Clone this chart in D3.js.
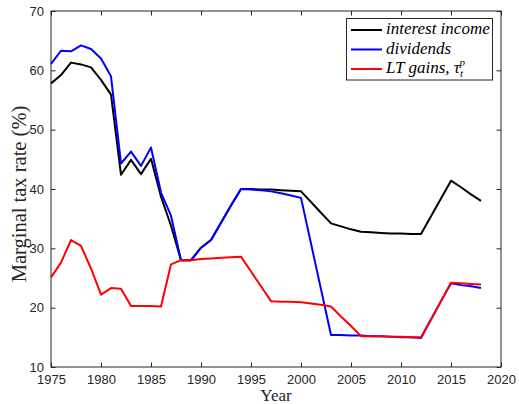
<!DOCTYPE html>
<html>
<head>
<meta charset="utf-8">
<script src="https://cdn.jsdelivr.net/npm/d3@7"></script>
<style>
  html, body { margin: 0; padding: 0; background: #fff; }
  svg { display: block; }
</style>
</head>
<body>
<svg id="chart" width="519" height="404"></svg>
<script>
// Marginal tax rates by year
const years = d3.range(1975, 2019);
const interestIncome = [57.8, 59.2, 61.3, 61.0, 60.5, 58.4, 55.9, 42.4, 44.9, 42.5,
  45.1, 38.7, 33.8, 28.0, 28.0, 30.1, 31.4, 34.3, 37.2, 40.0,
  40.0, 39.9, 39.9, 39.8, 39.7, 39.6, 37.8, 36.0, 34.2, 33.7,
  33.2, 32.8, 32.7, 32.6, 32.5, 32.5, 32.4, 32.4, 35.4, 38.4,
  41.4, 40.3, 39.1, 38.0];
const dividends = [61.1, 63.3, 63.2, 64.2, 63.6, 62.0, 59.0, 44.3, 46.3, 43.9,
  47.0, 39.4, 35.5, 28.0, 28.0, 30.1, 31.4, 34.3, 37.2, 40.0,
  39.9, 39.8, 39.6, 39.3, 38.9, 38.5, 30.8, 23.1, 15.4, 15.4,
  15.3, 15.3, 15.2, 15.2, 15.1, 15.0, 15.0, 14.9, 18.0, 21.1,
  24.1, 23.8, 23.6, 23.3];
const ltGains = [25.1, 27.6, 31.4, 30.4, 26.6, 22.2, 23.3, 23.2, 20.3, 20.3,
  20.3, 20.2, 27.3, 28.0, 28.0, 28.2, 28.3, 28.4, 28.5, 28.6,
  26.1, 23.6, 21.1, 21.0, 21.0, 20.9, 20.7, 20.5, 20.2, 18.5,
  16.9, 15.2, 15.2, 15.2, 15.1, 15.1, 15.0, 15.0, 18.0, 21.1,
  24.2, 24.1, 24.0, 23.9];
const xTicks = [1975, 1980, 1985, 1990, 1995, 2000, 2005, 2010, 2015, 2020];
const yTicks = [10, 20, 30, 40, 50, 60, 70];
const seriesNames = ["interest income", "dividends", "LT gains"];
const seriesColors = ["#000000", "#0000ff", "#ff0000"];

const svg = d3.select("#chart");
const plotL = 51, plotR = 501, plotT = 11, plotB = 367;

const x = d3.scaleLinear().domain([1975, 2020]).range([plotL, plotR]);
const y = d3.scaleLinear().domain([10, 70]).range([plotB, plotT]);

const axisColor = "#262626";
const tickFont = "'Liberation Sans', Arial, sans-serif";
const serif = "'Liberation Serif', 'DejaVu Serif', serif";

// plot frame
svg.append("rect")
  .attr("x", plotL).attr("y", plotT)
  .attr("width", plotR - plotL).attr("height", plotB - plotT)
  .attr("fill", "#fff").attr("stroke", axisColor).attr("stroke-width", 1);

// inward ticks on all four sides
const tickLen = 4.5;
function styleAxis(g) {
  g.select(".domain").remove();
  g.selectAll(".tick line").attr("stroke", axisColor).attr("stroke-width", 1);
  g.selectAll(".tick text").attr("fill", axisColor)
    .style("font-family", tickFont).style("font-size", "13px");
}
svg.append("g").attr("transform", `translate(0,${plotB})`)
  .call(d3.axisBottom(x).tickValues(xTicks).tickFormat(d3.format("d"))
    .tickSizeInner(-tickLen).tickSizeOuter(0).tickPadding(8))
  .call(styleAxis);
svg.append("g").attr("transform", `translate(0,${plotT})`)
  .call(d3.axisTop(x).tickValues(xTicks).tickFormat("")
    .tickSizeInner(-tickLen).tickSizeOuter(0))
  .call(styleAxis);
svg.append("g").attr("transform", `translate(${plotL},0)`)
  .call(d3.axisLeft(y).tickValues(yTicks).tickFormat(d3.format("d"))
    .tickSizeInner(-tickLen).tickSizeOuter(0).tickPadding(7))
  .call(styleAxis);
svg.append("g").attr("transform", `translate(${plotR},0)`)
  .call(d3.axisRight(y).tickValues(yTicks).tickFormat("")
    .tickSizeInner(-tickLen).tickSizeOuter(0))
  .call(styleAxis);

// series lines
const line = d3.line().x((d, i) => x(years[i])).y(d => y(d));
[interestIncome, dividends, ltGains].forEach((vals, i) => {
  svg.append("path")
    .datum(vals)
    .attr("fill", "none")
    .attr("stroke", seriesColors[i])
    .attr("stroke-width", 2)
    .attr("stroke-linejoin", "round")
    .attr("d", line);
});

// axis titles
svg.append("text")
  .attr("x", 276).attr("y", 401)
  .attr("text-anchor", "middle")
  .attr("fill", axisColor)
  .style("font-family", serif).style("font-size", "17px")
  .text("Year");
svg.append("text")
  .attr("transform", "translate(26,194) rotate(-90)")
  .attr("text-anchor", "middle")
  .attr("fill", axisColor)
  .style("font-family", serif).style("font-size", "20.5px")
  .text("Marginal tax rate (%)");

// legend
const lg = svg.append("g");
lg.append("rect")
  .attr("x", 346.5).attr("y", 18.5).attr("width", 146).attr("height", 61.5)
  .attr("fill", "#fff").attr("stroke", axisColor).attr("stroke-width", 1);
const rowY = [30, 49.5, 69];
seriesNames.forEach((name, i) => {
  lg.append("line")
    .attr("x1", 351).attr("x2", 382)
    .attr("y1", rowY[i]).attr("y2", rowY[i])
    .attr("stroke", seriesColors[i]).attr("stroke-width", 2);
  const t = lg.append("text")
    .attr("x", 386).attr("y", rowY[i] + 4)
    .attr("fill", "#000")
    .style("font-family", serif).style("font-style", "italic")
    .style("font-size", "17px");
  if (i < 2) {
    t.text(name);
  } else {
    t.append("tspan").text(name + ", \u03C4");
    t.append("tspan").attr("dy", 4).style("font-size", "11px").text("t");
    t.append("tspan").attr("dx", -3.5).attr("dy", -11).style("font-size", "11px").text("p");
  }
});
</script>
</body>
</html>
